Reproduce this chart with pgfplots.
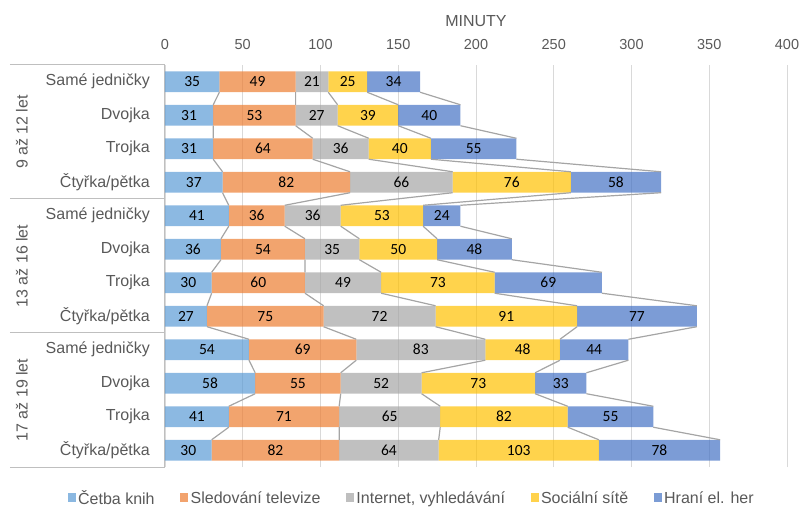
\documentclass[border=0pt]{standalone}
\usepackage{pgfplots}
\usepackage{pgfplotstable}
\pgfplotsset{compat=1.18}
\usepackage{fontspec}
\setmainfont{Liberation Sans}
\newfontfamily\datafont{Carlito}
\definecolor{cA}{HTML}{5B9BD5}
\definecolor{cB}{HTML}{ED7D31}
\definecolor{cC}{HTML}{A5A5A5}
\definecolor{cD}{HTML}{FFC000}
\definecolor{cE}{HTML}{4472C4}
\definecolor{txt}{HTML}{595959}
\definecolor{gridc}{HTML}{D9D9D9}
\definecolor{framec}{HTML}{BFBFBF}
\definecolor{serc}{HTML}{A5A5A5}

% y = 11 - row ; values a..e and cumulative ends ca..ce
\pgfplotstableread{
y a b c d e ca cb cc cd ce
11 35 49 21 25 34 35 84 105 130 164
10 31 53 27 39 40 31 84 111 150 190
9 31 64 36 40 55 31 95 131 171 226
8 37 82 66 76 58 37 119 185 261 319
7 41 36 36 53 24 41 77 113 166 190
6 36 54 35 50 48 36 90 125 175 223
5 30 60 49 73 69 30 90 139 212 281
4 27 75 72 91 77 27 102 174 265 342
3 54 69 83 48 44 54 123 206 254 298
2 58 55 52 73 33 58 113 165 238 271
1 41 71 65 82 55 41 112 177 259 314
0 30 82 64 103 78 30 112 176 279 357
}\data

% series lines: bar end of one row to bar end of the next row
\pgfplotstableread{
y c1 c2 c3 c4 c5
10.6875 35 84 105 130 164
10.3125 31 84 111 150 190
nan nan nan nan nan nan
9.6875 31 84 111 150 190
9.3125 31 95 131 171 226
nan nan nan nan nan nan
8.6875 31 95 131 171 226
8.3125 37 119 185 261 319
nan nan nan nan nan nan
7.6875 37 119 185 261 319
7.3125 41 77 113 166 190
nan nan nan nan nan nan
6.6875 41 77 113 166 190
6.3125 36 90 125 175 223
nan nan nan nan nan nan
5.6875 36 90 125 175 223
5.3125 30 90 139 212 281
nan nan nan nan nan nan
4.6875 30 90 139 212 281
4.3125 27 102 174 265 342
nan nan nan nan nan nan
3.6875 27 102 174 265 342
3.3125 54 123 206 254 298
nan nan nan nan nan nan
2.6875 54 123 206 254 298
2.3125 58 113 165 238 271
nan nan nan nan nan nan
1.6875 58 113 165 238 271
1.3125 41 112 177 259 314
nan nan nan nan nan nan
0.6875 41 112 177 259 314
0.3125 30 112 176 279 357
}\seg

\pgfplotsset{base/.style={width=622bp,height=402bp,scale only axis,
  xmin=0,xmax=400,ymin=-0.5,ymax=11.5}}

\begin{document}
\begin{tikzpicture}
\path[use as bounding box] (-165bp,-41bp) rectangle (634bp,467bp);
\begin{axis}[base,
  xbar stacked, bar width=0.625,
  clip=false,
  axis line style={draw=none},
  major tick length=0pt,
  xtick={0,50,...,400},
  xticklabel pos=upper,
  xmajorgrids, grid style={gridc, line width=0.8bp},
  ytick={0,...,11},
  yticklabels={Čtyřka/pětka,Trojka,Dvojka,Samé jedničky,Čtyřka/pětka,Trojka,Dvojka,Samé jedničky,Čtyřka/pětka,Trojka,Dvojka,Samé jedničky},
  yticklabel style={anchor=east, inner sep=0pt, xshift=-15bp, font=\fontsize{16bp}{19bp}\selectfont, text=txt},
  xticklabel style={anchor=center, inner sep=0pt, yshift=20bp, font=\fontsize{14.5bp}{17bp}\selectfont, text=txt},
  /pgf/number format/assume math mode=true,
  xlabel={MINUTY},
  xlabel style={at={(axis description cs:0.5,1)}, anchor=center, yshift=44bp, font=\fontsize{16bp}{19bp}\selectfont, text=txt},
  legend style={draw=none, at={(0.397,-0.077)}, anchor=center, font=\fontsize{16bp}{19bp}\selectfont, text=txt,
    inner sep=0pt, nodes={inner sep=2.5bp},
    /tikz/every even column/.append style={column sep=23bp}},
  legend columns=5,
  legend cell align=left,
  legend image code/.code={\fill[#1,draw=none] (0bp,-4.5bp) rectangle (8bp,4.5bp);},
]
\addplot[fill=cA, fill opacity=0.7, draw=none] table[x=a,y=y]{\data};
\addlegendentry{Četba knih}
\addplot[fill=cB, fill opacity=0.7, draw=none] table[x=b,y=y]{\data};
\addlegendentry{Sledování televize}
\addplot[fill=cC, fill opacity=0.7, draw=none] table[x=c,y=y]{\data};
\addlegendentry{Internet, vyhledávání}
\addplot[fill=cD, fill opacity=0.7, draw=none] table[x=d,y=y]{\data};
\addlegendentry{Sociální sítě}
\addplot[fill=cE, fill opacity=0.7, draw=none] table[x=e,y=y]{\data};
\addlegendentry{Hraní el. her}
% frame of the category axis
\draw[framec, line width=1bp] (axis cs:0,-0.5) -- (axis cs:0,11.5);
\draw[framec, line width=1bp] (axis cs:-99.7,11.5) -- (axis cs:0,11.5);
\draw[framec, line width=1bp] (axis cs:-99.7,7.5) -- (axis cs:0,7.5);
\draw[framec, line width=1bp] (axis cs:-99.7,3.5) -- (axis cs:0,3.5);
\draw[framec, line width=1bp] (axis cs:-99.7,-0.5) -- (axis cs:0,-0.5);
\node[rotate=90, text=txt, font=\fontsize{16bp}{19bp}\selectfont] at (axis cs:-92,9.5) {9 až 12 let};
\node[rotate=90, text=txt, font=\fontsize{16bp}{19bp}\selectfont] at (axis cs:-92,5.5) {13 až 16 let};
\node[rotate=90, text=txt, font=\fontsize{16bp}{19bp}\selectfont] at (axis cs:-92,1.5) {17 až 19 let};
\end{axis}
\begin{axis}[base, hide axis, unbounded coords=jump,
  /pgf/number format/assume math mode=true,
  nodes near coords style={anchor=center, inner sep=0pt, font=\datafont\fontsize{15.5bp}{18bp}\selectfont, text=black}]
\addplot[serc, line width=1.2bp, mark=none] table[x=c1,y=y]{\seg};
\addplot[serc, line width=1.2bp, mark=none] table[x=c2,y=y]{\seg};
\addplot[serc, line width=1.2bp, mark=none] table[x=c3,y=y]{\seg};
\addplot[serc, line width=1.2bp, mark=none] table[x=c4,y=y]{\seg};
\addplot[serc, line width=1.2bp, mark=none] table[x=c5,y=y]{\seg};
\addplot[draw=none, mark=none, nodes near coords, point meta=explicit] table[x expr=\thisrow{ca}-0.5*\thisrow{a}, y=y, meta=a]{\data};
\addplot[draw=none, mark=none, nodes near coords, point meta=explicit] table[x expr=\thisrow{cb}-0.5*\thisrow{b}, y=y, meta=b]{\data};
\addplot[draw=none, mark=none, nodes near coords, point meta=explicit] table[x expr=\thisrow{cc}-0.5*\thisrow{c}, y=y, meta=c]{\data};
\addplot[draw=none, mark=none, nodes near coords, point meta=explicit] table[x expr=\thisrow{cd}-0.5*\thisrow{d}, y=y, meta=d]{\data};
\addplot[draw=none, mark=none, nodes near coords, point meta=explicit] table[x expr=\thisrow{ce}-0.5*\thisrow{e}, y=y, meta=e]{\data};
\end{axis}
\end{tikzpicture}
\end{document}
